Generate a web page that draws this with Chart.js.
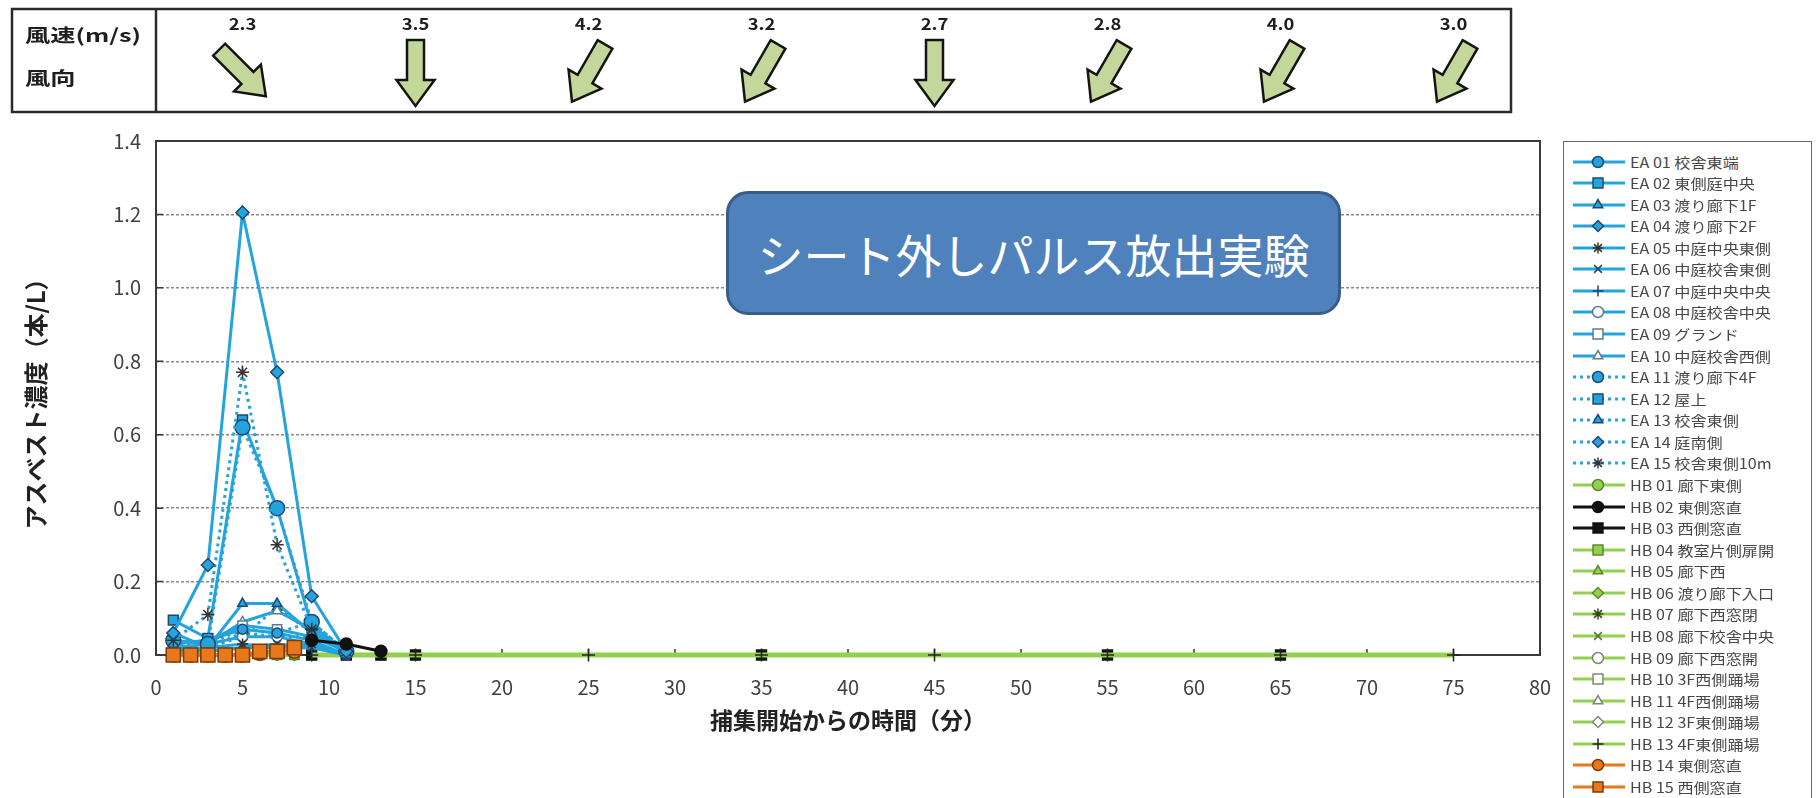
<!DOCTYPE html>
<html lang="ja">
<head>
<meta charset="UTF-8">
<title>シート外しパルス放出実験</title>
<script src="https://cdn.jsdelivr.net/npm/chart.js"></script>
<style>
  html, body { margin: 0; padding: 0; background: #fff; }
  body { width: 1816px; height: 798px; overflow: hidden; position: relative;
         font-family: "Noto Sans CJK JP", "Noto Sans", sans-serif; }
  #graph { position: absolute; left: 0; top: 0; }
  #note { position: absolute; left: 726px; top: 191px; width: 615px; height: 124px;
          box-sizing: border-box; background: #4f81bd; border: 3px solid #385d8a;
          border-radius: 22px; color: #fff; font-size: 46px;
          display: flex; align-items: center; justify-content: center; }
  #legend { position: absolute; left: 1563px; top: 141px; width: 249px; height: 700px;
            box-sizing: border-box; border: 1.5px solid #666; background: #fff; }
  .row { position: absolute; left: 0; height: 22px; width: 244px; }
  .row canvas { position: absolute; left: 7px; top: 0; }
  .row span { position: absolute; left: 66px; top: 0; line-height: 22px; font-size: 14px;
              color: #474747; white-space: nowrap; transform: scaleX(1.15); transform-origin: left center; }
</style>
</head>
<body>
<canvas id="graph" width="1816" height="798"></canvas>
<div id="note">シート外しパルス放出実験</div>
<div id="legend"></div>

<script>
  // 測定時刻（分）
  const EA_T = [1, 3, 5, 7, 9, 11];
  const HB_T_EARLY = [1, 2, 3, 4, 5, 6, 7, 8];
  const HB_T_MID = [9, 11, 13];
  const HB_T_LONG = [9, 15, 25, 35, 45, 55, 65, 75];
  const HB03_T = [9, 11, 13, 15, 35, 55, 65];

  // アスベスト濃度（本/L）
  const ea01 = [0.03, 0.04, 0.07, 0.06, 0.04, 0.00];
  const ea02 = [0.095, 0.045, 0.64, 0.40, 0.08, 0.01];
  const ea03 = [0.06, 0.02, 0.14, 0.14, 0.06, 0.01];
  const ea04 = [0.06, 0.245, 1.205, 0.77, 0.16, 0.01];
  const ea05 = [0.01, 0.02, 0.03, 0.02, 0.03, 0.00];
  const ea06 = [0.02, 0.01, 0.02, 0.03, 0.02, 0.00];
  const ea07 = [0.01, 0.01, 0.02, 0.02, 0.02, 0.00];
  const ea08 = [0.02, 0.03, 0.05, 0.05, 0.03, 0.00];
  const ea09 = [0.03, 0.04, 0.08, 0.07, 0.05, 0.01];
  const ea10 = [0.04, 0.03, 0.09, 0.12, 0.07, 0.01];
  const ea11 = [0.04, 0.03, 0.62, 0.40, 0.09, 0.01];
  const ea12 = [0.02, 0.03, 0.07, 0.06, 0.09, 0.01];
  const ea13 = [0.02, 0.02, 0.05, 0.13, 0.06, 0.01];
  const ea14 = [0.03, 0.02, 0.06, 0.05, 0.05, 0.01];
  const ea15 = [0.04, 0.11, 0.77, 0.30, 0.07, 0.01];

  const hb01 = [0, 0, 0, 0, 0, 0, 0, 0];
  const hb02 = [0.04, 0.03, 0.01];
  const hb03 = [0, 0, 0, 0, 0, 0, 0];
  const hb04 = [0, 0, 0, 0, 0, 0, 0, 0];
  const hb05 = [0, 0, 0, 0, 0, 0, 0, 0];
  const hb06 = [0, 0, 0, 0, 0, 0, 0, 0];
  const hb07 = [0, 0, 0, 0, 0, 0, 0, 0];
  const hb08 = [0, 0, 0, 0, 0, 0, 0, 0];
  const hb09 = [0, 0, 0];
  const hb10 = [0, 0, 0];
  const hb11 = [0, 0, 0];
  const hb12 = [0, 0, 0];
  const hb13 = [0, 0, 0, 0, 0, 0, 0, 0];
  const hb14 = [0, 0, 0, 0, 0, 0.005, 0.01, 0.01];
  const hb15 = [0, 0, 0, 0, 0, 0.01, 0.01, 0.02];

  // 風速・風向（風が吹いてくる方位、北=0°、時計回り）
  const WIND_T = [5, 15, 25, 35, 45, 55, 65, 75];
  const WIND_SPEED = [2.3, 3.5, 4.2, 3.2, 2.7, 2.8, 4.0, 3.0];
  const WIND_FROM = [315, 0, 30, 30, 0, 30, 30, 30];

  const X_MAX = 80, X_STEP = 5;
  const Y_MAX = 1.4, Y_STEP = 0.2;

  const BLUE = '#24a3dd', BLUE_EDGE = '#1c4a6e';
  const GREEN = '#93d050', GREEN_EDGE = '#5b8a2a';
  const ORANGE = '#e8781c', ORANGE_EDGE = '#7a3a06';
  const BLACK = '#111111';
  const DARK = '#333333';

  const series = [
    { label: 'EA 01 校舎東端', t: EA_T, v: ea01, color: BLUE, point: 'circle', fill: BLUE, edge: BLUE_EDGE, r: 5, order: 7 },
    { label: 'EA 02 東側庭中央', t: EA_T, v: ea02, color: BLUE, point: 'rect', fill: BLUE, edge: BLUE_EDGE, r: 7, order: 6 },
    { label: 'EA 03 渡り廊下1F', t: EA_T, v: ea03, color: BLUE, point: 'triangle', fill: BLUE, edge: BLUE_EDGE, r: 5.5, order: 7 },
    { label: 'EA 04 渡り廊下2F', t: EA_T, v: ea04, color: BLUE, point: 'rectRot', fill: BLUE, edge: BLUE_EDGE, r: 6.5, order: 3 },
    { label: 'EA 05 中庭中央東側', t: EA_T, v: ea05, color: BLUE, point: 'star', fill: DARK, edge: DARK, r: 5.5, order: 7 },
    { label: 'EA 06 中庭校舎東側', t: EA_T, v: ea06, color: BLUE, point: 'crossRot', fill: DARK, edge: BLUE_EDGE, r: 5.5, order: 7 },
    { label: 'EA 07 中庭中央中央', t: EA_T, v: ea07, color: BLUE, point: 'cross', fill: DARK, edge: BLUE_EDGE, r: 5.5, order: 7 },
    { label: 'EA 08 中庭校舎中央', t: EA_T, v: ea08, color: BLUE, point: 'circle', fill: '#ffffff', edge: '#5a7d96', r: 5, order: 7 },
    { label: 'EA 09 グランド', t: EA_T, v: ea09, color: BLUE, point: 'rect', fill: '#ffffff', edge: '#5a7d96', r: 6.5, order: 7 },
    { label: 'EA 10 中庭校舎西側', t: EA_T, v: ea10, color: BLUE, point: 'triangle', fill: '#ffffff', edge: '#5a7d96', r: 5.5, order: 7 },
    { label: 'EA 11 渡り廊下4F', t: EA_T, v: ea11, color: BLUE, dash: true, point: 'circle', fill: BLUE, edge: BLUE_EDGE, r: 7.5, order: 5 },
    { label: 'EA 12 屋上', t: EA_T, v: ea12, color: BLUE, dash: true, point: 'rect', fill: BLUE, edge: BLUE_EDGE, r: 7, order: 7 },
    { label: 'EA 13 校舎東側', t: EA_T, v: ea13, color: BLUE, dash: true, point: 'triangle', fill: BLUE, edge: BLUE_EDGE, r: 5.5, order: 7 },
    { label: 'EA 14 庭南側', t: EA_T, v: ea14, color: BLUE, dash: true, point: 'rectRot', fill: BLUE, edge: BLUE_EDGE, r: 6, order: 7 },
    { label: 'EA 15 校舎東側10m', t: EA_T, v: ea15, color: BLUE, dash: true, point: 'star', fill: DARK, edge: DARK, r: 6.5, order: 4 },
    { label: 'HB 01 廊下東側', t: HB_T_EARLY, v: hb01, color: GREEN, point: 'circle', fill: GREEN, edge: GREEN_EDGE, r: 5, order: 10 },
    { label: 'HB 02 東側窓直', t: HB_T_MID, v: hb02, color: BLACK, point: 'circle', fill: BLACK, edge: BLACK, r: 6, order: 2 },
    { label: 'HB 03 西側窓直', t: HB03_T, v: hb03, color: BLACK, point: 'rect', fill: BLACK, edge: BLACK, r: 7, order: 9 },
    { label: 'HB 04 教室片側扉開', t: HB_T_EARLY, v: hb04, color: GREEN, point: 'rect', fill: GREEN, edge: GREEN_EDGE, r: 6.5, order: 10 },
    { label: 'HB 05 廊下西', t: HB_T_EARLY, v: hb05, color: GREEN, point: 'triangle', fill: GREEN, edge: GREEN_EDGE, r: 5.5, order: 10 },
    { label: 'HB 06 渡り廊下入口', t: HB_T_EARLY, v: hb06, color: GREEN, point: 'rectRot', fill: GREEN, edge: GREEN_EDGE, r: 5.5, order: 10 },
    { label: 'HB 07 廊下西窓閉', t: HB_T_EARLY, v: hb07, color: GREEN, point: 'star', fill: DARK, edge: '#2f4a1a', r: 5, order: 10 },
    { label: 'HB 08 廊下校舎中央', t: HB_T_EARLY, v: hb08, color: GREEN, point: 'crossRot', fill: DARK, edge: '#4f7a2a', r: 5, order: 10 },
    { label: 'HB 09 廊下西窓開', t: HB_T_MID, v: hb09, color: GREEN, point: 'circle', fill: '#ffffff', edge: '#7a8a70', r: 5, order: 10 },
    { label: 'HB 10 3F西側踊場', t: HB_T_MID, v: hb10, color: GREEN, point: 'rect', fill: '#ffffff', edge: '#7a8a70', r: 6.5, order: 10 },
    { label: 'HB 11 4F西側踊場', t: HB_T_MID, v: hb11, color: GREEN, point: 'triangle', fill: '#ffffff', edge: '#7a8a70', r: 5.5, order: 10 },
    { label: 'HB 12 3F東側踊場', t: HB_T_MID, v: hb12, color: GREEN, point: 'rectRot', fill: '#ffffff', edge: '#7a8a70', r: 5, order: 10 },
    { label: 'HB 13 4F東側踊場', t: HB_T_LONG, v: hb13, color: GREEN, point: 'cross', fill: DARK, edge: '#222222', r: 6.5, width: 5, order: 8 },
    { label: 'HB 14 東側窓直', t: HB_T_EARLY, v: hb14, color: ORANGE, point: 'circle', fill: ORANGE, edge: ORANGE_EDGE, r: 7, order: 1 },
    { label: 'HB 15 西側窓直', t: HB_T_EARLY, v: hb15, color: ORANGE, point: 'rect', fill: ORANGE, edge: ORANGE_EDGE, r: 10, order: 0 }
  ];

  const datasets = series.map(s => ({
    label: s.label,
    data: s.t.map((x, k) => ({ x: x, y: s.v[k] })),
    borderColor: s.color,
    backgroundColor: s.fill,
    borderWidth: s.width || 3,
    borderDash: s.dash ? [3, 4] : [],
    pointStyle: s.point,
    pointRadius: s.r,
    pointBackgroundColor: s.fill,
    pointBorderColor: s.edge,
    pointBorderWidth: 1.5,
    tension: 0,
    clip: false,
    order: s.order
  }));

  Chart.defaults.font.family = '"Noto Sans CJK JP", "Noto Sans", sans-serif';

  // 枠線と内向きの目盛
  const frame = {
    id: 'frame',
    beforeDatasetsDraw(chart) {
      const { ctx, chartArea: a, scales: { x, y } } = chart;
      ctx.save();
      ctx.strokeStyle = '#3a3a3a';
      ctx.lineWidth = 2;
      ctx.strokeRect(a.left, a.top, a.right - a.left, a.bottom - a.top);
      ctx.lineWidth = 1.5;
      ctx.beginPath();
      x.ticks.forEach(t => {
        const px = x.getPixelForValue(t.value);
        ctx.moveTo(px, a.bottom);
        ctx.lineTo(px, a.bottom - 6);
      });
      y.ticks.forEach(t => {
        const py = y.getPixelForValue(t.value);
        ctx.moveTo(a.left, py);
        ctx.lineTo(a.left + 7, py);
      });
      ctx.stroke();
      ctx.restore();
    }
  };

  function stretchedText(ctx, text, x, y, sx, align) {
    ctx.save();
    ctx.translate(x, y);
    ctx.scale(sx, 1);
    ctx.textAlign = align;
    ctx.fillText(text, 0, 0);
    ctx.restore();
  }

  // 上段の風速・風向欄
  const windPanel = {
    id: 'windPanel',
    afterDraw(chart) {
      const { ctx, chartArea: a, scales: { x } } = chart;
      const top = 9, bottom = 112, left = 12, right = 1511;
      ctx.save();
      ctx.strokeStyle = '#2b2b2b';
      ctx.lineWidth = 2.5;
      ctx.strokeRect(left, top, right - left, bottom - top);
      ctx.beginPath();
      ctx.moveTo(a.left, top);
      ctx.lineTo(a.left, bottom);
      ctx.stroke();

      ctx.fillStyle = '#1e1e1e';
      ctx.textBaseline = 'middle';
      ctx.font = 'bold 18px "Noto Sans CJK JP"';
      stretchedText(ctx, '風速(m/s)', 25, 35, 1.4, 'left');
      stretchedText(ctx, '風向', 25, 78, 1.4, 'left');

      ctx.font = 'bold 16px "Noto Sans CJK JP"';
      WIND_T.forEach((t, i) => {
        const cx = x.getPixelForValue(t);
        ctx.fillStyle = '#1e1e1e';
        stretchedText(ctx, WIND_SPEED[i].toFixed(1), cx, 24, 1.15, 'center');

        // 風が吹いていく向きの矢印
        ctx.save();
        ctx.translate(cx, 73);
        ctx.rotate(WIND_FROM[i] * Math.PI / 180);
        ctx.beginPath();
        ctx.moveTo(-8.5, -33);
        ctx.lineTo(8.5, -33);
        ctx.lineTo(8.5, 7);
        ctx.lineTo(19, 7);
        ctx.lineTo(0, 33);
        ctx.lineTo(-19, 7);
        ctx.lineTo(-8.5, 7);
        ctx.closePath();
        ctx.fillStyle = '#c4d79b';
        ctx.fill();
        ctx.lineWidth = 2.5;
        ctx.lineJoin = 'miter';
        ctx.strokeStyle = '#141414';
        ctx.stroke();
        ctx.restore();
      });
      ctx.restore();
    }
  };

  const chart = new Chart(document.getElementById('graph'), {
    type: 'line',
    data: { datasets: datasets },
    options: {
      responsive: false,
      animation: false,
      devicePixelRatio: 1,
      events: [],
      layout: { padding: { top: 141, right: 276, bottom: 0, left: 0 } },
      plugins: { legend: { display: false }, tooltip: { enabled: false } },
      scales: {
        x: {
          type: 'linear',
          min: 0,
          max: X_MAX,
          afterFit(scale) { scale.height = 143; },
          ticks: { stepSize: X_STEP, padding: 20, color: '#404040', font: { size: 20 },
                   callback: v => String(v) },
          grid: { display: false, drawTicks: false },
          border: { display: false },
          title: { display: true, text: '捕集開始からの時間（分）', color: '#222',
                   font: { size: 23, weight: 'bold' }, padding: { top: 0, bottom: 64 } }
        },
        y: {
          min: 0,
          max: Y_MAX,
          afterFit(scale) { scale.width = 156; },
          ticks: { stepSize: Y_STEP, padding: 15, color: '#404040', font: { size: 20 },
                   callback: v => v.toFixed(1) },
          grid: {
            drawTicks: false,
            lineWidth: 1.5,
            color: ctx => (ctx.tick && (Math.abs(ctx.tick.value) < 1e-6 || Math.abs(ctx.tick.value - Y_MAX) < 1e-6))
              ? 'rgba(0,0,0,0)' : '#8a8a8a'
          },
          border: { display: false, dash: [3, 2] },
          title: { display: true, text: 'アスベスト濃度（本/L）', color: '#222',
                   font: { size: 24, weight: 'bold' }, padding: { top: 21, bottom: 0 } }
        }
      }
    },
    plugins: [frame, windPanel]
  });

  // 凡例（線種とマーカーの見本付き）
  const legendBox = document.getElementById('legend');
  const drawPoint = Chart.helpers && Chart.helpers.drawPoint;
  chart.data.datasets.forEach((ds, i) => {
    const row = document.createElement('div');
    row.className = 'row';
    row.style.top = (162 - 141 - 1.5 - 11 + i * 21.57) + 'px';

    const c = document.createElement('canvas');
    c.width = 56;
    c.height = 22;
    const g = c.getContext('2d');
    g.strokeStyle = ds.borderColor;
    g.lineWidth = 3;
    g.setLineDash(ds.borderDash);
    g.beginPath();
    g.moveTo(2, 11);
    g.lineTo(54, 11);
    g.stroke();
    g.setLineDash([]);
    g.fillStyle = ds.pointBackgroundColor;
    g.strokeStyle = ds.pointBorderColor;
    g.lineWidth = 1.5;
    if (drawPoint) {
      const lr = ds.pointStyle === 'rect' ? 7 : 5.5;
      drawPoint(g, { pointStyle: ds.pointStyle, radius: lr, rotation: 0, borderWidth: 1.5 }, 27, 11);
    }
    row.appendChild(c);

    const span = document.createElement('span');
    span.textContent = ds.label;
    row.appendChild(span);
    legendBox.appendChild(row);
  });
</script>
</body>
</html>
